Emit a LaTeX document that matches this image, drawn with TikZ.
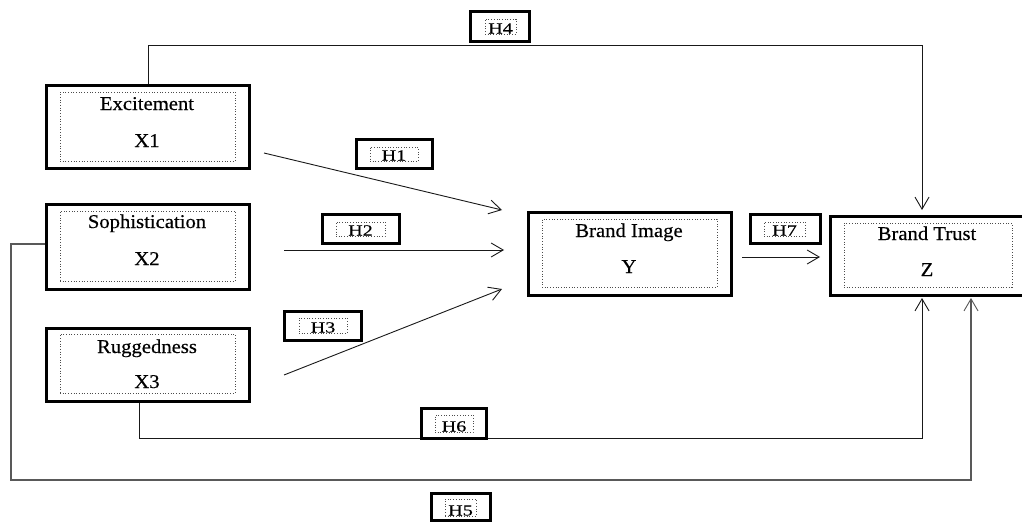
\documentclass[tikz,border=0pt]{standalone}
\usepackage{fontspec}
\setmainfont{Liberation Serif}
\newfontfamily\bigfont[FakeStretch=1.06,FakeBold=0.4]{Liberation Serif}
\newfontfamily\hfont[FakeStretch=1.3,FakeBold=0.4]{Liberation Serif}
\usetikzlibrary{arrows.meta}
\begin{document}
\begin{tikzpicture}[x=1pt,y=-1pt,
  outerbox/.style={draw=black,line width=3pt,fill=white,inner sep=0pt},
  innerbox/.style={draw=black!70,dotted,line width=0.7pt,inner sep=0pt},
  bigtext/.style={anchor=base,inner sep=0pt,font=\bigfont\fontsize{19.5}{22}\selectfont},
  htext/.style={anchor=base,inner sep=0pt,font=\hfont\fontsize{15.5}{17}\selectfont},
  conn/.style={line width=0.9pt,draw=black!90},
  arr/.style={conn,-{Straight Barb[length=12pt,width=14pt,line width=0.9pt]}},
  conngray/.style={line width=1.3pt,draw=black!65},
  arrgray/.style={conngray,-{Straight Barb[length=12pt,width=14pt,line width=0.9pt]}}
]
\useasboundingbox (0,0) rectangle (1022,522);
\fill[white] (0,0) rectangle (1022,522);

% ---------- main boxes ----------
\node[outerbox,minimum width=203pt,minimum height=83pt] (x1) at (148,127) {};
\node[innerbox,minimum width=175pt,minimum height=69pt] (x1i) at (147.5,126.5) {};
\node[bigtext] (x1a) at (147,110) {Excitement};
\node[bigtext] (x1b) at (147,147) {X1};

\node[outerbox,minimum width=203pt,minimum height=85pt] (x2) at (148,247) {};
\node[innerbox,minimum width=175pt,minimum height=70pt] (x2i) at (147.5,246) {};
\node[bigtext] (x2a) at (147,228) {Sophistication};
\node[bigtext] (x2b) at (147,265) {X2};

\node[outerbox,minimum width=203pt,minimum height=73pt] (x3) at (148,365) {};
\node[innerbox,minimum width=175pt,minimum height=59pt] (x3i) at (147.5,363.5) {};
\node[bigtext] (x3a) at (147,353) {Ruggedness};
\node[bigtext] (x3b) at (147,388) {X3};

\node[outerbox,minimum width=203pt,minimum height=83pt] (bi) at (630,254) {};
\node[innerbox,minimum width=175pt,minimum height=68pt] (bii) at (629.5,253) {};
\node[bigtext] (bia) at (629,237) {Brand Image};
\node[bigtext] (bib) at (629,273) {Y};

\node[outerbox,minimum width=200pt,minimum height=79pt] (bt) at (930,256) {};
\node[innerbox,minimum width=168pt,minimum height=64pt] (bti) at (928,255) {};
\node[bigtext] (bta) at (927,240) {Brand Trust};
\node[bigtext] (btb) at (927,276) {Z};

% ---------- connector end points ----------
\coordinate (h1s) at (264,153);
\coordinate (h1e) at (502,210);
\coordinate (h2s) at (284,250);
\coordinate (h2e) at (504,250);
\coordinate (h3s) at (284,375);
\coordinate (h3e) at (502,289);
\coordinate (h7s) at (742,257);
\coordinate (h7e) at (820,257);
\coordinate (h4a) at (148,45);
\coordinate (h4b) at (922,45);
\coordinate (h4e) at (922,210);
\coordinate (h6a) at (139,438);
\coordinate (h6b) at (922,438);
\coordinate (h6e) at (922,298);
\coordinate (h5a) at (11,244);
\coordinate (h5b) at (11,480);
\coordinate (h5c) at (971,480);
\coordinate (h5e) at (971,298);

% ---------- connectors ----------
\draw[arr] (h1s) -- (h1e);
\draw[arr] (h2s) -- (h2e);
\draw[arr] (h3s) -- (h3e);
\draw[arr] (h7s) -- (h7e);
\draw[arr] (x1.north -| h4a) -- (h4a) -- (h4b) -- (h4e);
\draw[arr] (x3.south -| h6a) -- (h6a) -- (h6b) -- (h6e);
\draw[arrgray] (x2.west |- h5a) -- (h5a) -- (h5b) -- (h5c) -- (h5e);

% ---------- hypothesis labels ----------
\node[outerbox,minimum width=59pt,minimum height=30pt] (h4) at (500,26.5) {};
\node[innerbox,minimum width=31pt,minimum height=15pt] (h4i) at (500.5,26.5) {};
\node[htext] (h4t) at (500.5,33.5) {H4};

\node[outerbox,minimum width=76pt,minimum height=29pt] (h1) at (394.5,154) {};
\node[innerbox,minimum width=48pt,minimum height=14pt] (h1i) at (394,154) {};
\node[htext] (h1t) at (394,160.5) {H1};

\node[outerbox,minimum width=77pt,minimum height=29pt] (h2) at (361,229) {};
\node[innerbox,minimum width=49pt,minimum height=14pt] (h2i) at (360.5,229) {};
\node[htext] (h2t) at (360.5,235.5) {H2};

\node[outerbox,minimum width=77pt,minimum height=29pt] (h3) at (323,326) {};
\node[innerbox,minimum width=48pt,minimum height=15pt] (h3i) at (323,325.5) {};
\node[htext] (h3t) at (323,332.5) {H3};

\node[outerbox,minimum width=70pt,minimum height=29pt] (h7) at (785.5,229) {};
\node[innerbox,minimum width=41pt,minimum height=14pt] (h7i) at (784.5,229) {};
\node[htext] (h7t) at (784.5,235.5) {H7};

\node[outerbox,minimum width=65pt,minimum height=30pt] (h6) at (454,423.5) {};
\node[innerbox,minimum width=38pt,minimum height=17pt] (h6i) at (454,423.5) {};
\node[htext] (h6t) at (454,431.5) {H6};

\node[outerbox,minimum width=59pt,minimum height=27pt] (h5) at (461,507) {};
\node[innerbox,minimum width=31pt,minimum height=17pt] (h5i) at (460.5,507.5) {};
\node[htext] (h5t) at (460.5,515.5) {H5};
\end{tikzpicture}
\end{document}
